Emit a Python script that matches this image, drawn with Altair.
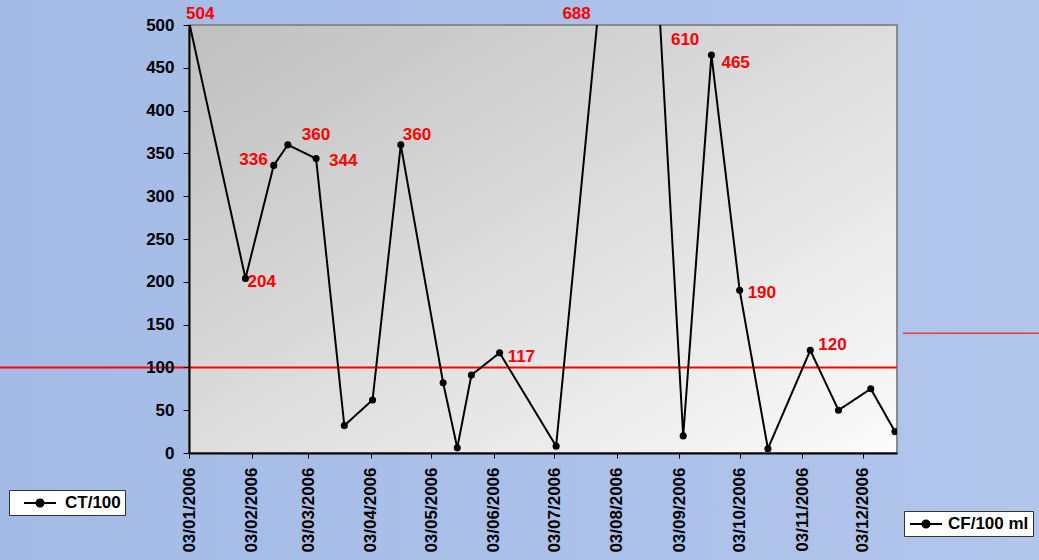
import altair as alt
import pandas as pd

# ---- data ----
sample_dates = ["2006-01-03", "2006-01-31", "2006-02-14", "2006-02-21", "2006-03-07",
                "2006-03-21", "2006-04-04", "2006-04-18", "2006-05-09", "2006-05-16",
                "2006-05-23", "2006-06-06", "2006-07-04", "2006-08-01", "2006-08-22",
                "2006-09-05", "2006-09-19", "2006-10-03", "2006-10-17", "2006-11-07",
                "2006-11-21", "2006-12-07", "2006-12-19"]
cf_values = [504, 204, 336, 360, 344, 32, 62, 360, 82, 6, 91, 117, 8,
             688, 610, 20, 465, 190, 5, 120, 50, 75, 25]
tick_months = [1, 2, 3, 4, 5, 6, 7, 8, 9, 10, 11, 12]
y_ticks = [0, 50, 100, 150, 200, 250, 300, 350, 400, 450, 500]
limit_value = 100
side_value = 140
series_main = "CF/100 ml"
series_other = "CT/100"

df = pd.DataFrame({
    "i": list(range(len(cf_values))),
    "date": sample_dates,
    "value": cf_values,
    "label": [str(v) for v in cf_values],
    "series": [series_main] * len(cf_values),
    "series2": [series_other] * len(cf_values),
})

W, H = 708, 428
FONT = "Liberation Sans"
RED = "#ff0000"

x_scale = alt.Scale(type="utc", nice=False,
                    domain=[alt.DateTime(year=2006, month=1, date=3, utc=True),
                            alt.DateTime(year=2006, month=12, date=20, utc=True)])
y_scale = alt.Scale(domain=[0, 500], nice=False)

x_enc = alt.X("date:T", scale=x_scale, title=None,
              axis=alt.Axis(values=[alt.DateTime(year=2006, month=m, date=3, utc=True) for m in tick_months],
                            format="%d/%m/%Y", labelAngle=-90, labelFont=FONT,
                            labelFontWeight="bold", labelFontSize=17, labelColor="black",
                            tickColor="black", domainColor="black", domainWidth=2,
                            tickSize=5, labelPadding=9, grid=False, zindex=1,
                            labelOverlap=False))
y_enc = alt.Y("value:Q", scale=y_scale, title=None,
              axis=alt.Axis(values=y_ticks, labelFont=FONT, labelFontWeight="bold",
                            labelFontSize=17, labelColor="black", tickColor="black",
                            domainColor="black", domainWidth=2, tickSize=6,
                            labelPadding=9, grid=False, zindex=1))

one = pd.DataFrame({"k": [0]})

outer_bg = alt.Chart(one).mark_rect(
    color=alt.LinearGradient(gradient="linear", x1=0, y1=0, x2=1, y2=0,
                             stops=[alt.GradientStop(offset=0, color="#a3bbe6"),
                                    alt.GradientStop(offset=1, color="#b2c5eb")])
).encode(x=alt.value(-189), x2=alt.value(850), y=alt.value(-25), y2=alt.value(535))

plot_bg = alt.Chart(one).mark_rect(
    color=alt.LinearGradient(gradient="linear", x1=0, y1=0, x2=1, y2=1,
                             stops=[alt.GradientStop(offset=0, color="#bfbfbf"),
                                    alt.GradientStop(offset=1, color="#fbfbfb")]),
    stroke="#8a8a8a", strokeWidth=2
).encode(x=alt.value(0), x2=alt.value(W), y=alt.value(0), y2=alt.value(H))

limit_rule = alt.Chart(one).mark_rule(color=RED, strokeWidth=2).encode(
    y=alt.datum(limit_value), x=alt.value(-189), x2=alt.value(W))
side_rule = alt.Chart(one).mark_rule(color="#f03a3a", strokeWidth=1.5).encode(
    y=alt.datum(side_value), x=alt.value(714), x2=alt.value(850))

# line-with-dot legend symbol: wide path drawn at a small nominal size
sym_path = "M-2,0H2M0.44,0A0.44,0.44,0,1,1,-0.44,0A0.44,0.44,0,1,1,0.44,0Z"
legend_common = dict(orient="none", title=None, fillColor="white", strokeColor="#333333",
                     padding=4, labelFont=FONT, labelFontWeight="bold", labelFontSize=17,
                     labelColor="black", symbolType=sym_path, symbolSize=256,
                     symbolStrokeWidth=2, symbolStrokeColor="black", symbolFillColor="black",
                     labelExpr="datum.label + '\u00a0\u00a0'", zindex=1)

line = alt.Chart(df).mark_line(clip=True, strokeWidth=2).encode(
    x=x_enc, y=y_enc,
    color=alt.Color("series:N", scale=alt.Scale(range=["black"]),
                    legend=alt.Legend(legendX=715, legendY=486, symbolOffset=9,
                                      labelOffset=13, **legend_common)),
    strokeDash=alt.StrokeDash("series2:N", scale=alt.Scale(range=[[1, 0]]),
                              legend=alt.Legend(legendX=-180, legendY=465, symbolOffset=18,
                                                labelOffset=16, **legend_common)),
)
points = alt.Chart(df).mark_point(clip=True, filled=True, size=50, color="black", opacity=1).encode(
    x="date:T", y="value:Q")

# label placements: (row index, dx, dy, align)
label_places = [(0, -3, -8, "left"), (1, 2, 4, "left"), (2, -6, -5, "right"),
                (3, 14, -10, "left"), (4, 13, 2, "left"), (7, 2, -10, "left"),
                (11, 8, 4, "left"), (16, 10, 8, "left"), (17, 8, 3, "left"),
                (19, 8, -5, "left")]
text_layers = []
for idx, dx, dy, al in label_places:
    text_layers.append(
        alt.Chart(df).transform_filter(alt.datum.i == idx).mark_text(
            font=FONT, fontWeight="bold", fontSize=17, color=RED, align=al,
            baseline="middle", dx=dx, dy=dy).encode(x="date:T", y="value:Q", text="label:N"))
# labels of points beyond the top of the scale
text_layers.append(
    alt.Chart(df).transform_filter(alt.datum.i == 13).mark_text(
        font=FONT, fontWeight="bold", fontSize=17, color=RED, align="center",
        baseline="middle", dx=-36).encode(x="date:T", y=alt.value(-11), text="label:N"))
text_layers.append(
    alt.Chart(df).transform_filter(alt.datum.i == 14).mark_text(
        font=FONT, fontWeight="bold", fontSize=17, color=RED, align="left",
        baseline="middle", dx=16).encode(x="date:T", y=alt.value(15), text="label:N"))

chart = alt.layer(outer_bg, plot_bg, limit_rule, side_rule, line, points, *text_layers).properties(
    width=W, height=H,
    padding={"left": 189, "top": 25, "right": 142, "bottom": 107},
    autosize=alt.AutoSizeParams(type="none"),
    background="#a8bfe8",
).configure_view(stroke=None)

chart.save("out.html", embed_options={"renderer": "svg", "actions": False})
